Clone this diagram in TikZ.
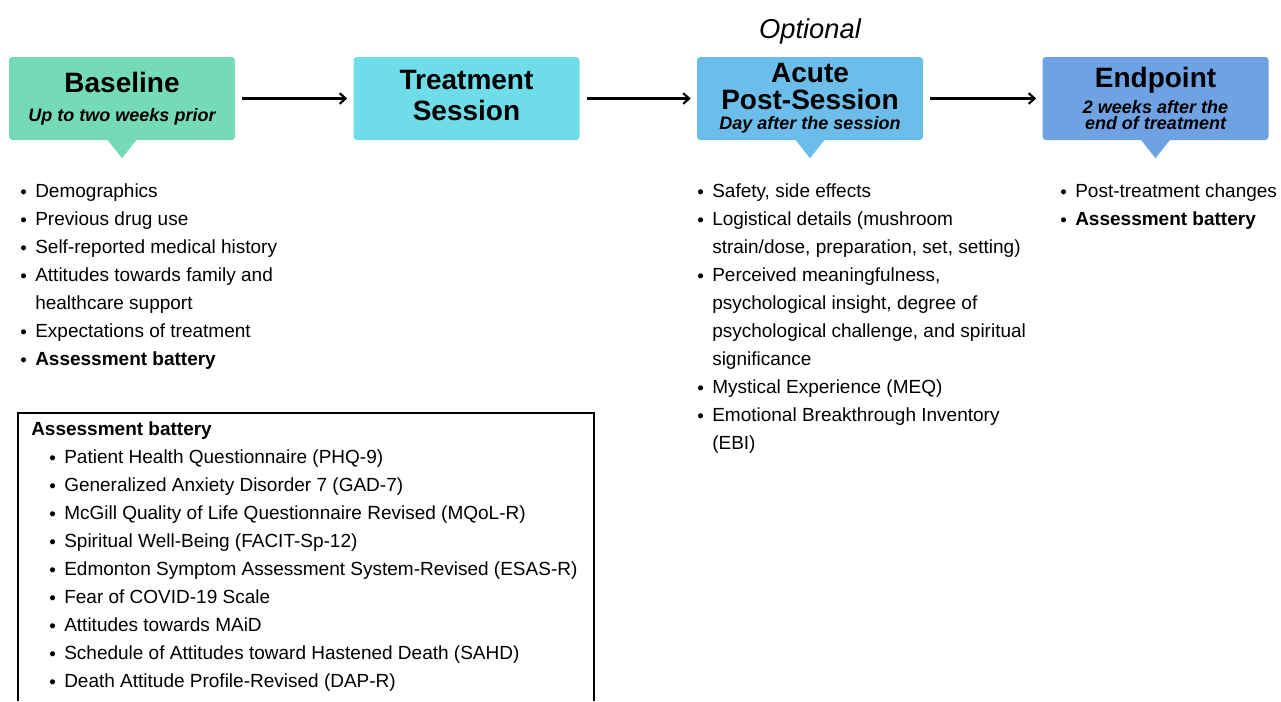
\documentclass[tikz,border=0pt]{standalone}
\usepackage{fontspec}
\setmainfont{Liberation Sans}
\usetikzlibrary{arrows.meta,calc}

\definecolor{basegreen}{HTML}{74DBB6}
\definecolor{treatcyan}{HTML}{6FDDE9}
\definecolor{acuteblue}{HTML}{6CBDEA}
\definecolor{endblue}{HTML}{6FA2E3}

\newcommand{\titlefont}{\fontsize{21pt}{21pt}\selectfont\bfseries}
\newcommand{\subfont}{\fontsize{13.5pt}{13.5pt}\selectfont\bfseries\itshape}
\newcommand{\optfont}{\fontsize{20.5pt}{20.5pt}\selectfont\itshape}
\newcommand{\listfont}{\fontsize{14.25pt}{21pt}\selectfont}
\newcommand{\bul}{\makebox[11.25pt][l]{\raisebox{-0.7pt}{\fontsize{14pt}{14pt}\selectfont\textbullet}}}
\newcommand{\cont}{\hspace*{11.25pt}}

\begin{document}
\begin{tikzpicture}[x=0.75pt,y=-0.75pt,
  stage/.style={fill=#1, rounded corners=2.5pt, minimum width=169.5pt, minimum height=62.25pt, inner sep=0pt, align=center, font=\titlefont},
  flow/.style={-{Straight Barb[length=4.5pt,width=8pt,line width=1.6pt]}, line width=1.6pt, shorten <=5.25pt, shorten >=4.5pt},
  items/.style={anchor=north west, align=left, inner sep=0pt, font=\listfont}]

\useasboundingbox (0,0) rectangle (1281,701);

% stages
\node[stage=basegreen] (base) at (122,98.5) {Baseline\\[0.75pt]{\subfont Up to two weeks prior}};
\node[stage=treatcyan] (treat) at (466.5,98.5) {Treatment\\[2pt]Session\vphantom{g}};
\node[stage=acuteblue] (acute) at (810,98.5) {Acute\\[-0.5pt]Post-Session\\[-6pt]{\subfont Day after the session}};
\node[stage=endblue] (endp) at (1155.5,98.5) {Endpoint\\[-1.5pt]{\subfont 2 weeks after the}\\[-8.5pt]{\subfont end of treatment}};
\node[font=\optfont, anchor=base] (opt) at (810,38) {Optional};

% pointers
\fill[basegreen] ($(base.south)+(-15,-1)$) -- ($(base.south)+(0,18)$) -- ($(base.south)+(15,-1)$) -- cycle;
\fill[acuteblue] ($(acute.south)+(-15,-1)$) -- ($(acute.south)+(0,18)$) -- ($(acute.south)+(15,-1)$) -- cycle;
\fill[endblue] ($(endp.south)+(-15,-1)$) -- ($(endp.south)+(0,18)$) -- ($(endp.south)+(15,-1)$) -- cycle;

\draw[flow] (base) -- (treat);
\draw[flow] (treat) -- (acute);
\draw[flow] (acute) -- (endp);

% lists
\node[items] (baselist) at (20,183.3) {\bul Demographics\\
  \bul Previous drug use\\
  \bul Self-reported medical history\\
  \bul Attitudes towards family and\\
  \cont healthcare support\\
  \bul Expectations of treatment\\
  \bul \textbf{Assessment battery}};
\node[items] (acutelist) at (697,183.3) {\bul Safety, side effects\\
  \bul Logistical details (mushroom\\
  \cont strain/dose, preparation, set, setting)\\
  \bul Perceived meaningfulness,\\
  \cont psychological insight, degree of\\
  \cont psychological challenge, and spiritual\\
  \cont significance\\
  \bul Mystical Experience (MEQ)\\
  \bul Emotional Breakthrough Inventory\\
  \cont (EBI)};
\node[items] (endlist) at (1060,183.3) {\bul Post-treatment changes\\
  \bul \textbf{Assessment battery}};

% assessment battery box
\draw[line width=0.9pt] (18,701) -- (18,413) -- (594,413) -- (594,701);
\node[items] (battitle) at (31,421.3) {\textbf{Assessment battery}};
\node[items] (batlist) at (49,449.3) {\bul Patient Health Questionnaire (PHQ-9)\\
  \bul Generalized Anxiety Disorder 7 (GAD-7)\\
  \bul McGill Quality of Life Questionnaire Revised (MQoL-R)\\
  \bul Spiritual Well-Being (FACIT-Sp-12)\\
  \bul Edmonton Symptom Assessment System-Revised (ESAS-R)\\
  \bul Fear of COVID-19 Scale\\
  \bul Attitudes towards MAiD\\
  \bul Schedule of Attitudes toward Hastened Death (SAHD)\\
  \bul Death Attitude Profile-Revised (DAP-R)};

\end{tikzpicture}
\end{document}
